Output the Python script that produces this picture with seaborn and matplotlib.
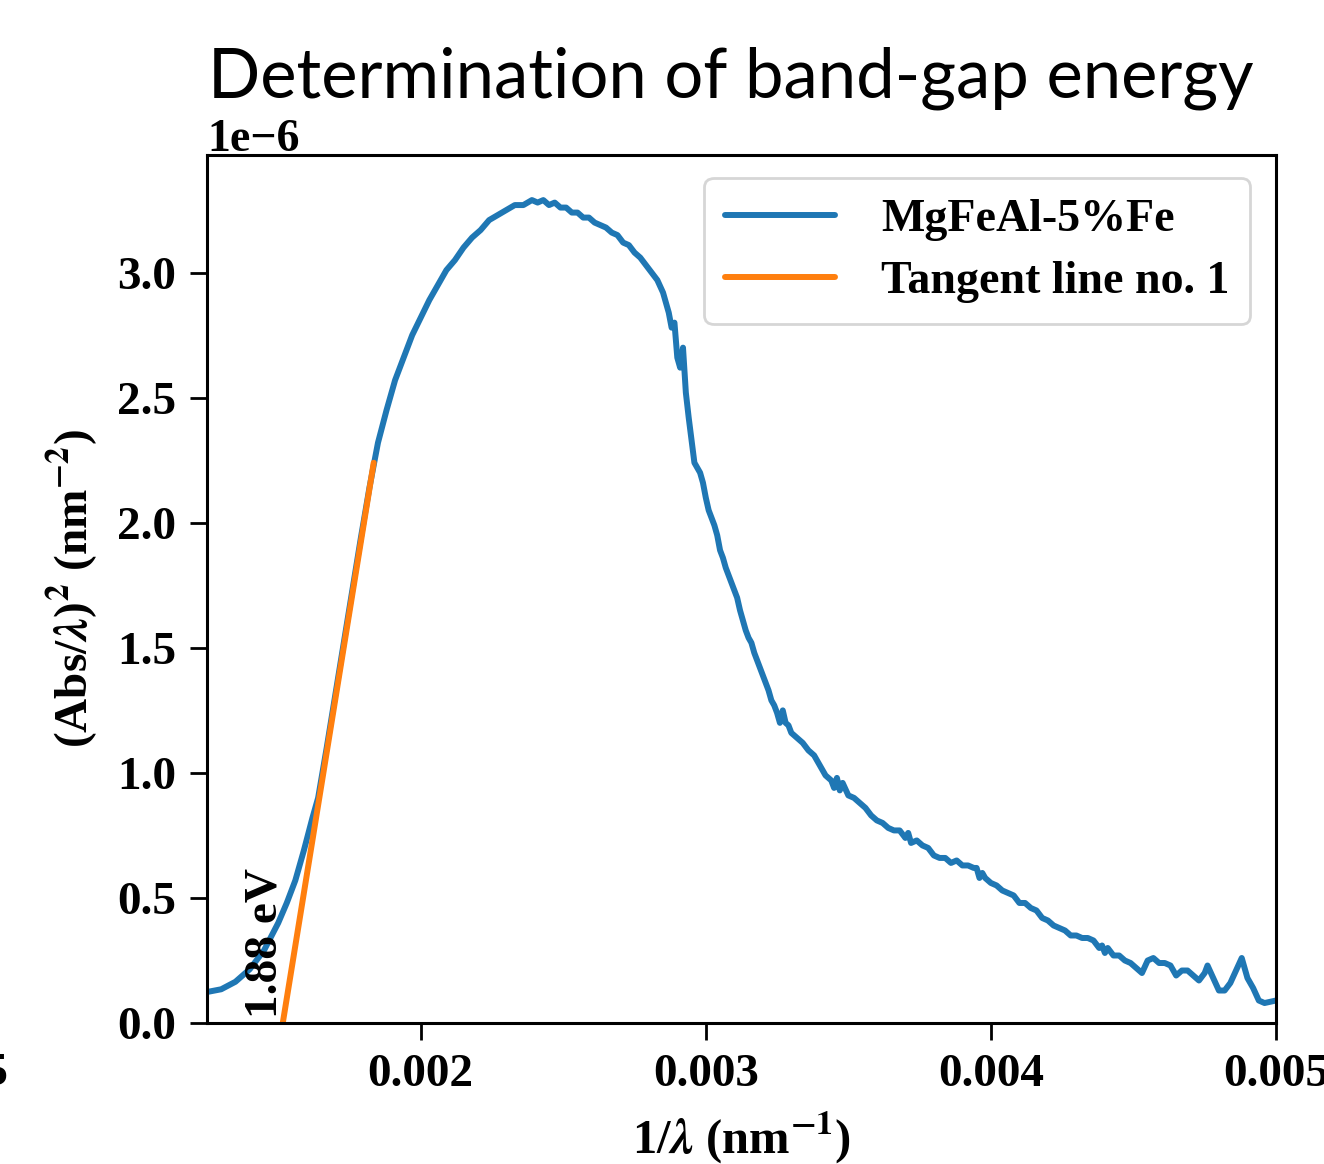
import matplotlib

matplotlib.use("Agg")

import matplotlib.pyplot as plt
import numpy as np
import pandas as pd
import seaborn as sns

# 1/lambda (nm^-1) and (Abs/lambda)^2 in units of 1e-6 nm^-2
INV_LAMBDA = [
    0.00125, 0.00130, 0.00135, 0.00140, 0.00145, 0.00150, 0.00153, 0.00156, 0.00159, 0.00162,
    0.00164, 0.00167, 0.00170, 0.00173, 0.00176, 0.00179, 0.00182, 0.00185, 0.00188, 0.00191, 0.00194,
    0.00197, 0.00200, 0.00203, 0.00206, 0.00209, 0.00212, 0.00215, 0.00218, 0.00221, 0.00224,
    0.00227, 0.00230, 0.00233, 0.00236, 0.00239, 0.00241, 0.00243, 0.00245, 0.00247, 0.00249,
    0.00251, 0.00253, 0.00255, 0.00257, 0.00259, 0.00261, 0.00263, 0.00265, 0.00267, 0.00269,
    0.00271, 0.00273, 0.00275, 0.00277, 0.00279, 0.00281, 0.00283, 0.00285, 0.00287, 0.00288,
    0.00289, 0.00290, 0.00291, 0.00292, 0.00293, 0.00294, 0.00295, 0.00296, 0.00297, 0.00298,
    0.00299, 0.00300, 0.00301, 0.00302, 0.00303, 0.00304, 0.00305, 0.00306, 0.00307, 0.00308,
    0.00309, 0.00310, 0.00311, 0.00312, 0.00313, 0.00314, 0.00315, 0.00316, 0.00317, 0.00318,
    0.00319, 0.00320, 0.00321, 0.00322, 0.00323, 0.00324, 0.00325, 0.00326, 0.00327, 0.00328,
    0.00329, 0.00330, 0.00332, 0.00334, 0.00336, 0.00338, 0.00340, 0.00342, 0.00344, 0.00345,
    0.00346, 0.00347, 0.00348, 0.00350, 0.00352, 0.00354, 0.00356, 0.00358, 0.00360, 0.00362,
    0.00364, 0.00366, 0.00368, 0.00370, 0.00371, 0.00372, 0.00374, 0.00376, 0.00378, 0.00380,
    0.00382, 0.00384, 0.00386, 0.00388, 0.00390, 0.00392, 0.00394, 0.00395, 0.00396, 0.00397,
    0.00398, 0.00400, 0.00402, 0.00404, 0.00406, 0.00408, 0.00410, 0.00412, 0.00414, 0.00416,
    0.00418, 0.00420, 0.00422, 0.00424, 0.00426, 0.00428, 0.00430, 0.00432, 0.00434, 0.00436,
    0.00438, 0.00439, 0.00440, 0.00441, 0.00443, 0.00445, 0.00447, 0.00449, 0.00451, 0.00453,
    0.00455, 0.00457, 0.00459, 0.00461, 0.00463, 0.00465, 0.00467, 0.00469, 0.00471, 0.00473,
    0.00475, 0.00476, 0.00478, 0.00480, 0.00482, 0.00484, 0.00486, 0.00488, 0.00489, 0.00490,
    0.00492, 0.00494, 0.00496, 0.00498, 0.00500,
]
ABS2_E6 = [
    0.124, 0.135, 0.165, 0.215, 0.29, 0.40, 0.48, 0.57, 0.69, 0.82,
    0.90, 1.10, 1.31, 1.52, 1.73, 1.94, 2.14, 2.32, 2.45, 2.57, 2.66,
    2.75, 2.82, 2.89, 2.95, 3.01, 3.05, 3.10, 3.14, 3.17, 3.21,
    3.23, 3.25, 3.27, 3.27, 3.29, 3.28, 3.29, 3.27, 3.28, 3.26,
    3.26, 3.24, 3.24, 3.22, 3.22, 3.20, 3.19, 3.18, 3.16, 3.15,
    3.12, 3.11, 3.08, 3.06, 3.03, 3.00, 2.97, 2.92, 2.84, 2.78,
    2.80, 2.66, 2.62, 2.70, 2.52, 2.42, 2.33, 2.24, 2.22, 2.20,
    2.16, 2.10, 2.05, 2.02, 1.99, 1.95, 1.89, 1.86, 1.82, 1.79,
    1.76, 1.73, 1.70, 1.65, 1.61, 1.57, 1.54, 1.52, 1.48, 1.45,
    1.42, 1.39, 1.36, 1.33, 1.29, 1.27, 1.24, 1.20, 1.25, 1.20,
    1.19, 1.16, 1.14, 1.12, 1.09, 1.07, 1.03, 0.99, 0.97, 0.94,
    0.98, 0.93, 0.96, 0.91, 0.90, 0.88, 0.86, 0.83, 0.81, 0.80,
    0.78, 0.77, 0.77, 0.74, 0.76, 0.72, 0.73, 0.71, 0.70, 0.67,
    0.66, 0.66, 0.64, 0.65, 0.63, 0.63, 0.62, 0.62, 0.58, 0.60,
    0.58, 0.56, 0.55, 0.53, 0.52, 0.51, 0.48, 0.48, 0.46, 0.45,
    0.42, 0.41, 0.39, 0.38, 0.37, 0.35, 0.35, 0.34, 0.34, 0.33,
    0.30, 0.31, 0.28, 0.30, 0.27, 0.27, 0.25, 0.24, 0.22, 0.20,
    0.25, 0.26, 0.24, 0.24, 0.23, 0.19, 0.21, 0.21, 0.19, 0.17,
    0.20, 0.23, 0.18, 0.13, 0.13, 0.16, 0.21, 0.26, 0.22, 0.18,
    0.14, 0.09, 0.08, 0.085, 0.09,
]
TANGENT_X = [0.001516, 0.001835]
TANGENT_Y_E6 = [0.0, 2.24]
BAND_GAP_LABEL = "1.88 eV"
SERIES_LABELS = ["MgFeAl-5%Fe", "Tangent line no. 1"]
X_TICKS = [0.002, 0.003, 0.004, 0.005]

BLUE = "#1f77b4"
ORANGE = "#ff7f0e"

sns.set_theme(style="ticks")
plt.rcParams["font.family"] = ["Liberation Serif", "DejaVu Serif"]
plt.rcParams["font.weight"] = "bold"
plt.rcParams["mathtext.fontset"] = "stix"
for key in ["text.color", "axes.labelcolor", "xtick.color", "ytick.color", "axes.edgecolor"]:
    plt.rcParams[key] = "black"

spectrum = pd.DataFrame({"x": INV_LAMBDA, "y": np.array(ABS2_E6) * 1e-6})
tangent = pd.DataFrame({"x": TANGENT_X, "y": np.array(TANGENT_Y_E6) * 1e-6})

fig = plt.figure(figsize=(13.24, 11.64), dpi=100)
ax = fig.add_axes([0.1563, 0.1211, 0.8074, 0.7457])

sns.lineplot(data=spectrum, x="x", y="y", color=BLUE, linewidth=4.3,
             label=SERIES_LABELS[0], ax=ax, sort=False)
sns.lineplot(data=tangent, x="x", y="y", color=ORANGE, linewidth=4.3,
             label=SERIES_LABELS[1], ax=ax, sort=False)

ax.set_xlim(0.00125, 0.005)
ax.set_ylim(0, 3.47e-6)
ax.set_xticks(X_TICKS)
ax.set_xticklabels([f"{t:.3f}" for t in X_TICKS])
ax.tick_params(axis="both", labelsize=34, length=12, width=2, pad=10)
for lab in ax.get_xticklabels() + ax.get_yticklabels():
    lab.set_fontweight("bold")
ax.yaxis.get_offset_text().set_fontsize(33)
ax.yaxis.get_offset_text().set_fontweight("bold")
for spine in ax.spines.values():
    spine.set_linewidth(2.2)

ax.set_xlabel(r"1/$\lambda$ (nm$^{-1}$)", fontsize=35, fontweight="bold", labelpad=10)
ax.set_ylabel(r"(Abs/$\lambda$)$^2$ (nm$^{-2}$)", fontsize=34, fontweight="bold", labelpad=12)

ax.text(0.001456, 0.32e-6, BAND_GAP_LABEL, rotation=90, ha="center", va="center",
        fontsize=34, fontweight="bold")

leg = ax.legend(loc="upper right", fontsize=33, frameon=True, fancybox=True,
                handlelength=2.4, borderpad=0.45, labelspacing=0.45, handletextpad=1.0,
                bbox_to_anchor=(0.997, 1.0))
leg.get_frame().set_edgecolor("#cccccc")
leg.get_frame().set_linewidth(2)
for line in leg.get_lines():
    line.set_linewidth(4.3)
for txt in leg.get_texts():
    txt.set_fontweight("bold")

fig.text(0.552, 1 - 98 / 1164, "Determination of band-gap energy", ha="center", va="baseline",
         fontsize=49.5, fontweight="normal", color="black", family=["Lato", "DejaVu Sans"])

# fragment of a neighbouring tick label, cut off at the left edge
fig.text(0.006, 0.0777, "0.005", ha="right", va="center", fontsize=34, fontweight="bold")

fig.savefig("out.png", dpi=100)
